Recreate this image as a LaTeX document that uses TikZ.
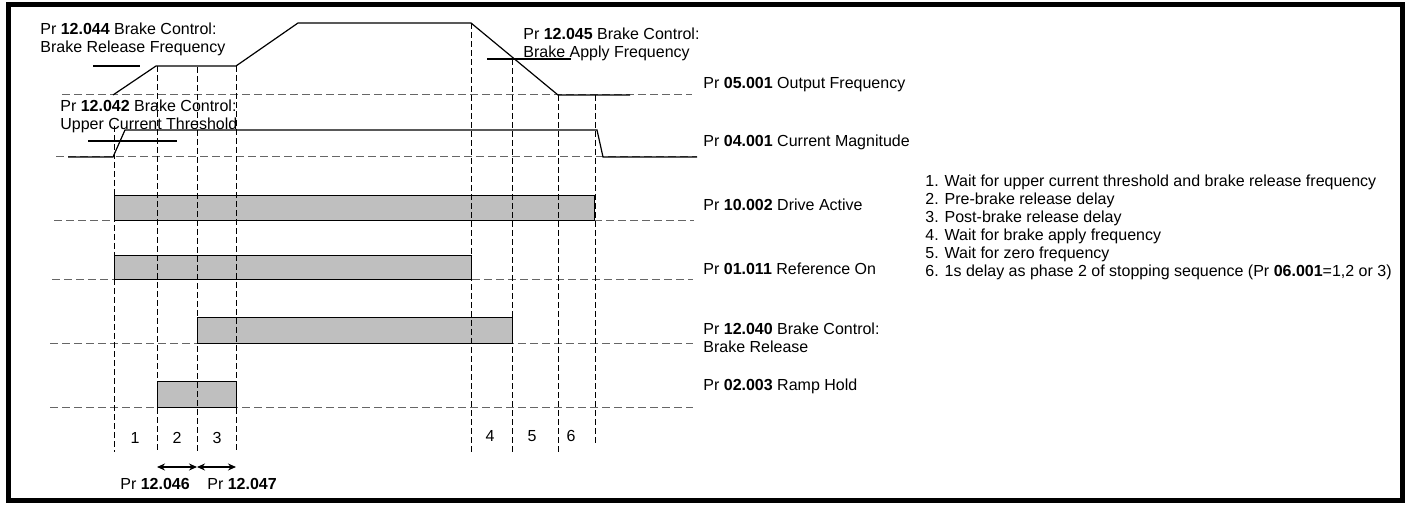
\documentclass[tikz,border=0pt]{standalone}
\usepackage{fontspec}
\setmainfont{Liberation Sans}
\usetikzlibrary{arrows.meta}
\tikzset{
  trace/.style={line width=0.6pt},
  level/.style={dash pattern=on 4pt off 2pt, black!60, line width=0.5pt},
  phase/.style={dash pattern=on 3pt off 1.5pt, line width=0.5pt},
  bar/.style={draw, fill=gray!50, line width=0.5pt},
  lbl/.style={anchor=north west, inner sep=0pt, align=left, font=\fontsize{8}{9}\selectfont},
  num/.style={inner sep=0pt, font=\fontsize{8}{9}\selectfont},
}
\begin{document}
\begin{tikzpicture}[x=0.5pt,y=-0.5pt]
\useasboundingbox (0,0) rectangle (1412,507);
\draw[line width=2.5pt] (8,5) rectangle (1402,500);
% signal levels
\draw[level] (62,95) -- (692,95);
\draw[level] (56,157) -- (697,157);
\draw[level] (54,221) -- (694,221);
\draw[level] (52,280) -- (693,280);
\draw[level] (50,344) -- (693,344);
\draw[level] (50,407) -- (693,407);
% bars
\draw[bar] (114,196) rectangle (594,221);
\draw[bar] (114,256) rectangle (471,280);
\draw[bar] (197,318) rectangle (512,344);
\draw[bar] (157,381) rectangle (236,407);
% phase boundaries
\draw[phase] (114,126) -- (114,452);
\draw[phase] (157,66) -- (157,452);
\draw[phase] (197,67) -- (197,452);
\draw[phase] (236,66) -- (236,452);
\draw[phase] (471,23) -- (471,452);
\draw[phase] (512,59) -- (512,452);
\draw[phase] (558,95) -- (558,452);
\draw[phase] (595,95) -- (595,446);
% output frequency and current
\draw[trace] (113,95) -- (156,66) -- (236,66) -- (298,23) -- (471,23) -- (558,95) -- (630,95);
\draw[trace] (93,66) -- (140,66);
\draw[trace] (487,59) -- (571,59);
\draw[trace] (68,157) -- (113,157) -- (125,130) -- (597,130) -- (603,157) -- (697,157);
\draw[trace] (88,141) -- (177,141);
% threshold labels
\node[lbl] (relfreq) at (40,23) {Pr \textbf{12.044} Brake Control:\\Brake Release Frequency};
\node[lbl] (uppercur) at (60,100) {Pr \textbf{12.042} Brake Control:\\Upper Current Threshold};
\node[lbl] (applyfreq) at (523,28) {Pr \textbf{12.045} Brake Control:\\Brake Apply Frequency};
% signal names
\node[lbl] (outfreq) at (703,77) {Pr \textbf{05.001} Output Frequency};
\node[lbl] (curmag) at (703,135) {Pr \textbf{04.001} Current Magnitude};
\node[lbl] (active) at (703,199) {Pr \textbf{10.002} Drive Active};
\node[lbl] (refon) at (703,263) {Pr \textbf{01.011} Reference On};
\node[lbl] (brakerel) at (703,323) {Pr \textbf{12.040} Brake Control:\\Brake Release};
\node[lbl] (ramphold) at (703,379) {Pr \textbf{02.003} Ramp Hold};
\node[lbl] (legend) at (925,175) {1. Wait for upper current threshold and brake release frequency\\
2. Pre-brake release delay\\
3. Post-brake release delay\\
4. Wait for brake apply frequency\\
5. Wait for zero frequency\\
6. 1s delay as phase 2 of stopping sequence (Pr \textbf{06.001}=1,2 or 3)};
% phase numbers
\node[num] (ph1) at (135,438) {1};
\node[num] (ph2) at (177,438) {2};
\node[num] (ph3) at (217,438) {3};
\node[num] (ph4) at (490,436) {4};
\node[num] (ph5) at (532,436) {5};
\node[num] (ph6) at (571,436) {6};
% delays
\coordinate (d2) at (157,467);
\coordinate (d3) at (197,467);
\coordinate (d4) at (236,467);
\draw[{Stealth[length=4pt,width=3.5pt]}-{Stealth[length=4pt,width=3.5pt]}, line width=0.6pt] (d2) -- (d3);
\draw[{Stealth[length=4pt,width=3.5pt]}-{Stealth[length=4pt,width=3.5pt]}, line width=0.6pt] (d3) -- (d4);
\node[lbl] (prebrake) at (120,478) {Pr \textbf{12.046}};
\node[lbl] (postbrake) at (207,478) {Pr \textbf{12.047}};
\end{tikzpicture}
\end{document}
